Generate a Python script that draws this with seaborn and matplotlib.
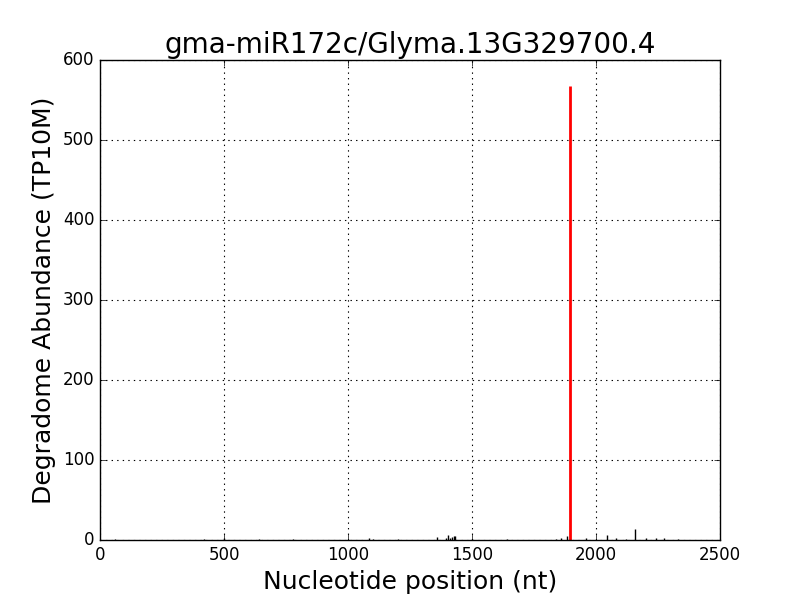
import matplotlib
matplotlib.use("Agg")
import matplotlib.pyplot as plt
import seaborn as sns
import pandas as pd

# degradome tags (position in nt, abundance TP10M)
bg_pos = [60, 420, 500, 640, 780, 1085, 1100, 1200, 1358, 1395, 1404, 1412, 1420, 1426, 1432,
          1500, 1640, 1840, 1860, 1882, 1960, 2043, 2080, 2120, 2158, 2200, 2240, 2274, 2330]
bg_val = [1, 1, 2, 1, 1, 2, 1, 1, 4, 3, 6, 3, 4, 5, 5,
          1, 1, 1, 2, 5, 2, 6, 2, 1, 14, 2, 2, 3, 1]
site_pos = [1895]
site_val = [567]

title = "gma-miR172c/Glyma.13G329700.4"

df = pd.DataFrame({"pos": bg_pos, "val": bg_val})

sns.set_style("white")
plt.style.use("classic")

fig, ax = plt.subplots(figsize=(8, 6), dpi=100)
fig.patch.set_facecolor("white")
ax.vlines(df["pos"], 0, df["val"], colors="black", linewidth=1)
ax.vlines(site_pos, 0, site_val, colors="red", linewidth=2)

ax.set_xlim(0, 2500)
ax.set_ylim(0, 600)
ax.set_xticks(range(0, 2501, 500))
ax.set_yticks(range(0, 601, 100))
ax.grid(True, color="black", linestyle=":", linewidth=0.8)
ax.set_title(title, fontsize=20)
ax.set_xlabel("Nucleotide position (nt)", fontsize=18)
ax.set_ylabel("Degradome Abundance (TP10M)", fontsize=18)
ax.tick_params(labelsize=12)

fig.subplots_adjust(left=0.125, right=0.9, bottom=0.1, top=0.9)
fig.savefig("out.png", dpi=100)
